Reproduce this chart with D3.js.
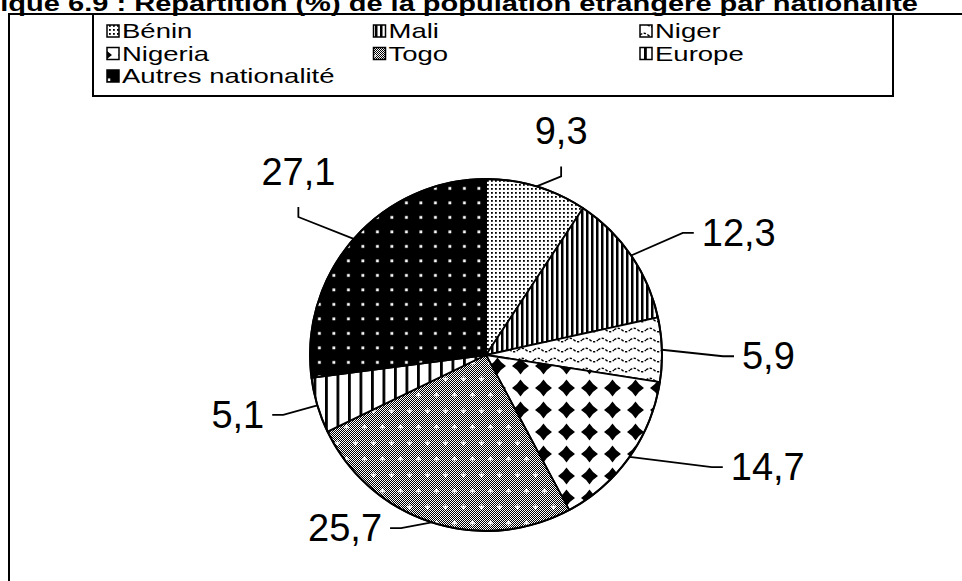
<!DOCTYPE html>
<html>
<head>
<meta charset="utf-8">
<script src="https://cdn.jsdelivr.net/npm/d3@7"></script>
<style>
  html, body { margin: 0; padding: 0; background: #fff; }
  svg { display: block; }
  text { font-family: "Liberation Sans", Arial, sans-serif; fill: #000; }
</style>
</head>
<body>
<svg id="chart" width="962" height="581"></svg>
<script>
// ---- data ----
const titleText = "Graphique 6.9 : Répartition (%) de la population étrangère par nationalité";
const categories = ["Bénin", "Mali", "Niger", "Nigeria", "Togo", "Europe", "Autres nationalité"];
const values = [9.3, 12.3, 5.9, 14.7, 25.7, 5.1, 27.1];
const valueLabels = ["9,3", "12,3", "5,9", "14,7", "25,7", "5,1", "27,1"];
const patternIds = ["p-benin", "p-mali", "p-niger", "p-nigeria", "p-togo", "p-europe", "p-autres"];

// ---- layout ----
const W = 962, H = 581;
const cx = 486, cy = 355, R = 176;
// label placement: angle shift (deg) and distance from centre, side of label
const labelShift = [5, 4, 2, -10, 11, 1, -3];
const labelDist  = [203, 241, 248, 262, 198, 222, 239];
const labelSide  = ["top", "right", "right", "right", "left", "left", "top"];

const svg = d3.select("#chart");
svg.append("rect").attr("width", W).attr("height", H).attr("fill", "#fff");

// ---- patterns ----
const defs = svg.append("defs");
function pat(id, w, h) {
  return defs.append("pattern").attr("id", id).attr("patternUnits", "userSpaceOnUse")
    .attr("width", w).attr("height", h);
}
// Bénin: fine black dots on white
let p = pat("p-benin", 4, 4);
p.append("rect").attr("width", 4).attr("height", 4).attr("fill", "#fff");
p.append("rect").attr("x", 1).attr("y", 1).attr("width", 1.8).attr("height", 1.8).attr("fill", "#000");
// Mali: dense vertical stripes
p = pat("p-mali", 5, 5);
p.append("rect").attr("width", 5).attr("height", 5).attr("fill", "#fff");
p.append("rect").attr("x", 0).attr("width", 2.5).attr("height", 5).attr("fill", "#000");
// Niger: dashed wavy lines
p = pat("p-niger", 16, 10);
p.append("rect").attr("width", 16).attr("height", 10).attr("fill", "#fff");
p.append("path").attr("d", "M0,5 Q4,1.5 8,5 T16,5").attr("fill", "none")
  .attr("stroke", "#000").attr("stroke-width", 1.4).attr("stroke-dasharray", "2.5,1.5");
// Nigeria: black diamonds on white
p = pat("p-nigeria", 23, 22);
p.append("rect").attr("width", 23).attr("height", 22).attr("fill", "#fff");
p.append("path").attr("d", "M11.5,2.5 Q14.8,7.8 20,11 Q14.8,14.2 11.5,19.5 Q8.2,14.2 3,11 Q8.2,7.8 11.5,2.5 Z")
  .attr("fill", "#000");
// Togo: grey checker + white crosses
p = pat("p-check", 2, 2);
p.append("rect").attr("width", 2).attr("height", 2).attr("fill", "#fff");
p.append("rect").attr("width", 1).attr("height", 1).attr("fill", "#000");
p.append("rect").attr("x", 1).attr("y", 1).attr("width", 1).attr("height", 1).attr("fill", "#000");
p = pat("p-togo", 18, 32);
p.append("rect").attr("width", 18).attr("height", 32).attr("fill", "url(#p-check)");
[[4.5, 8], [13.5, 24]].forEach(([x, y]) => {
  p.append("rect").attr("x", x - 2.5).attr("y", y - 0.75).attr("width", 5).attr("height", 1.5).attr("fill", "#fff");
  p.append("rect").attr("x", x - 0.75).attr("y", y - 2.5).attr("width", 1.5).attr("height", 5).attr("fill", "#fff");
});
// Europe: wide vertical stripes
p = pat("p-europe", 11.5, 10);
p.append("rect").attr("width", 11.5).attr("height", 10).attr("fill", "#fff");
p.append("rect").attr("x", 0).attr("width", 2.8).attr("height", 10).attr("fill", "#000");
// Autres: white dots on black
p = pat("p-autres", 14.5, 14.5);
p.append("rect").attr("width", 14.5).attr("height", 14.5).attr("fill", "#000");
p.append("rect").attr("x", 6).attr("y", 6).attr("width", 2.8).attr("height", 2.8).attr("fill", "#fff");

// ---- title (clipped at the top in the source) ----
svg.append("text")
  .attr("transform", "translate(918,11) scale(1.32,1)")
  .attr("text-anchor", "end")
  .attr("font-size", 22).attr("font-weight", "bold")
  .text(titleText);

// ---- frames ----
svg.append("path").attr("d", `M9,${H + 5} V14 H${W + 5}`)
  .attr("fill", "none").attr("stroke", "#000").attr("stroke-width", 2);
svg.append("rect").attr("x", 93).attr("y", 14).attr("width", 800).attr("height", 82)
  .attr("fill", "none").attr("stroke", "#000").attr("stroke-width", 2);

// ---- legend ----
const legCol = d3.scalePoint().domain([0, 1, 2]).range([107, 640]);
const legRow = d3.scalePoint().domain([0, 1, 2]).range([38, 83]);
const leg = svg.append("g");
categories.forEach((c, i) => {
  const x = legCol(i % 3), y = legRow(Math.floor(i / 3));
  leg.append("rect").attr("x", x).attr("y", y - 13).attr("width", 12).attr("height", 12)
    .attr("fill", `url(#${patternIds[i]})`).attr("stroke", "#000").attr("stroke-width", 1.5);
  leg.append("text").attr("transform", `translate(${x + 15},${y}) scale(1.31,1)`)
    .attr("font-size", 21).text(c);
});

// ---- pie ----
const pie = d3.pie().sort(null).value(d => d)(values);
const arc = d3.arc().innerRadius(0).outerRadius(R);
const edge = d3.arc().innerRadius(R).outerRadius(R);
const g = svg.append("g").attr("transform", `translate(${cx},${cy})`);
g.selectAll("path.slice").data(pie).join("path")
  .attr("class", "slice")
  .attr("d", arc)
  .attr("fill", (d, i) => `url(#${patternIds[i]})`)
  .attr("stroke", "#000").attr("stroke-width", 1.8).attr("stroke-linejoin", "round");
g.append("circle").attr("r", R).attr("fill", "none").attr("stroke", "#000").attr("stroke-width", 2);

// ---- labels with leader lines ----
pie.forEach((d, i) => {
  const [sx, sy] = edge.centroid(d);
  const mid = (d.startAngle + d.endAngle) / 2 + labelShift[i] * Math.PI / 180;
  const ex = labelDist[i] * Math.sin(mid), ey = -labelDist[i] * Math.cos(mid);
  let elbow, tx, ty, anchor;
  if (labelSide[i] === "top") {
    elbow = [ex, ey + 10]; tx = ex; ty = ey - 22; anchor = "middle";
  } else if (labelSide[i] === "right") {
    elbow = [ex - 11, ey]; tx = ex + 8; ty = ey + 13; anchor = "start";
  } else {
    elbow = [ex + 11, ey]; tx = ex - 8; ty = ey + 13; anchor = "end";
  }
  g.append("path").attr("d", d3.line()([[sx, sy], elbow, [ex, ey]]))
    .attr("fill", "none").attr("stroke", "#000").attr("stroke-width", 1.8);
  g.append("text").attr("x", tx).attr("y", ty).attr("text-anchor", anchor)
    .attr("font-size", 38).text(valueLabels[i]);
});
</script>
</body>
</html>
